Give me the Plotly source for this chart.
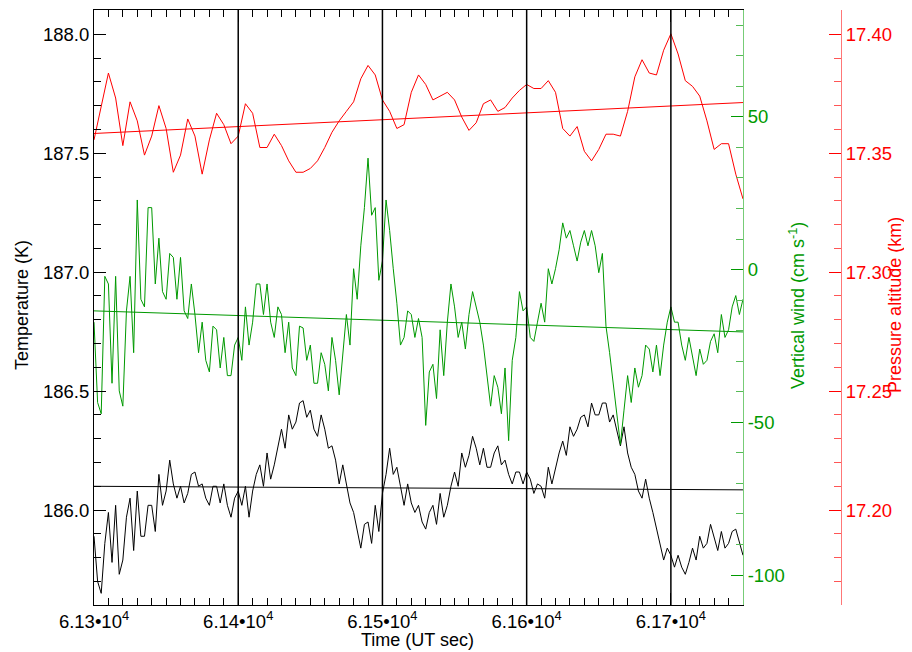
import numpy as np
import plotly.graph_objects as go

# sample grids (UT sec)
t_fast = np.arange(61300, 61750.1, 2.5)   # temperature & vertical wind
t_slow = np.arange(61300, 61750.1, 5.0)   # pressure altitude

temperature = [
    185.89, 185.70, 185.65, 185.86, 185.99, 185.78, 186.02, 185.73,
    185.79, 185.97, 186.05, 185.83, 186.08, 185.89, 185.89, 186.02,
    186.02, 185.91, 186.15, 186.02, 186.08, 186.21, 186.11, 186.05,
    186.10, 186.03, 186.07, 186.15, 186.16, 186.10, 186.11, 186.05,
    186.02, 186.10, 186.10, 186.03, 186.11, 186.02, 185.97, 186.05,
    186.08, 186.02, 186.10, 185.97, 186.08, 186.15, 186.19, 186.10,
    186.24, 186.13, 186.19, 186.27, 186.34, 186.26, 186.40, 186.34,
    186.37, 186.45, 186.46, 186.39, 186.42, 186.34, 186.31, 186.40,
    186.34, 186.26, 186.27, 186.21, 186.11, 186.19, 186.11, 186.03,
    185.99, 185.92, 185.84, 185.94, 185.95, 185.86, 186.02, 185.91,
    186.07, 186.15, 186.26, 186.15, 186.18, 186.10, 186.02, 186.11,
    186.03, 185.99, 186.02, 185.95, 185.92, 185.99, 186.02, 185.94,
    186.07, 185.97, 186.02, 186.10, 186.16, 186.10, 186.24, 186.18,
    186.23, 186.31, 186.26, 186.19, 186.26, 186.18, 186.18, 186.24,
    186.27, 186.19, 186.21, 186.15, 186.11, 186.16, 186.16, 186.11,
    186.16, 186.13, 186.07, 186.11, 186.10, 186.05, 186.18, 186.11,
    186.18, 186.24, 186.29, 186.23, 186.35, 186.31, 186.34, 186.39,
    186.40, 186.35, 186.45, 186.40, 186.40, 186.45, 186.45, 186.37,
    186.40, 186.34, 186.27, 186.35, 186.24, 186.18, 186.15, 186.08,
    186.05, 186.13, 186.05, 185.99, 185.92, 185.86, 185.79, 185.84,
    185.81, 185.76, 185.81, 185.76, 185.73, 185.78, 185.84, 185.79,
    185.89, 185.84, 185.86, 185.94, 185.89, 185.83, 185.91, 185.84,
    185.86, 185.91, 185.92, 185.86, 185.81,
]

vertical_wind = [
    -17.2, -43.5, -47.2, -2.2, -4.7, -37.2, -2.2, -39.7,
    -44.7, -13.5, -2.2, -27.2, 22.8, -9.7, -12.2, 20.3,
    20.3, -4.7, 10.3, -7.2, -9.7, 5.3, 4.0, -9.7,
    4.0, -13.5, -16.0, -4.7, -14.7, -27.2, -17.2, -29.7,
    -33.5, -18.5, -19.7, -32.2, -22.2, -34.7, -34.7, -24.7,
    -22.2, -29.7, -12.2, -24.7, -17.2, -4.7, -4.7, -14.7,
    -4.7, -17.2, -22.2, -12.2, -14.7, -27.2, -17.2, -32.2,
    -34.7, -18.5, -19.1, -29.7, -24.7, -37.2, -37.2, -27.2,
    -31.0, -39.7, -22.2, -29.7, -41.0, -27.2, -14.7, -24.7,
    0.3, -9.7, 7.8, 20.3, 36.5, 17.8, 20.3, -3.5,
    2.8, 22.8, 12.8, 0.3, -11.0, -24.7, -22.2, -13.5,
    -14.7, -22.2, -16.0, -22.2, -51.0, -33.5, -31.0, -42.2,
    -19.7, -34.7, -17.2, -4.7, -12.2, -22.2, -17.2, -26.0,
    -14.7, -7.2, -12.2, -17.2, -24.7, -34.7, -44.7, -34.7,
    -38.5, -47.2, -32.2, -56.0, -29.7, -22.2, -7.2, -13.5,
    -12.2, -22.2, -23.5, -17.2, -11.0, -17.2, 0.3, -4.7,
    0.3, 6.5, 15.3, 10.3, 12.8, 7.8, 2.8, 9.0,
    12.8, 7.8, 12.8, 7.8, -1.0, 5.3, -18.5, -27.2,
    -37.2, -47.2, -57.2, -46.0, -34.7, -43.5, -32.2, -38.5,
    -34.7, -24.7, -26.0, -33.5, -24.7, -34.7, -24.7, -17.2,
    -12.2, -17.2, -17.2, -24.7, -29.7, -22.2, -28.5, -34.7,
    -26.0, -31.0, -29.7, -23.5, -21.0, -27.2, -14.7, -22.2,
    -19.7, -12.2, -8.5, -14.7, -9.7,
]

pressure_alt = [
    17.3556, 17.3700, 17.3837, 17.3732, 17.3532, 17.3716, 17.3636, 17.3492, 17.3572, 17.3700,
    17.3604, 17.3420, 17.3492, 17.3644, 17.3572, 17.3412, 17.3556, 17.3668, 17.3620, 17.3540,
    17.3572, 17.3708, 17.3668, 17.3524, 17.3524, 17.3580, 17.3532, 17.3468, 17.3420, 17.3420,
    17.3436, 17.3468, 17.3524, 17.3588, 17.3636, 17.3676, 17.3716, 17.3813, 17.3869, 17.3829,
    17.3724, 17.3676, 17.3604, 17.3620, 17.3756, 17.3829, 17.3789, 17.3724, 17.3740, 17.3756,
    17.3724, 17.3652, 17.3596, 17.3628, 17.3708, 17.3724, 17.3676, 17.3692, 17.3732, 17.3764,
    17.3789, 17.3772, 17.3772, 17.3805, 17.3756, 17.3604, 17.3572, 17.3612, 17.3508, 17.3468,
    17.3516, 17.3580, 17.3580, 17.3572, 17.3676, 17.3821, 17.3893, 17.3837, 17.3829, 17.3933,
    17.4002, 17.3917, 17.3805, 17.3781, 17.3740, 17.3636, 17.3516, 17.3540, 17.3540, 17.3412,
    17.3308,
]

# linear fits (end points)
fit_t = [61300, 61750]
temperature_fit = [186.100, 186.085]
wind_fit = [-13.5, -20.4]
alt_fit = [17.3583, 17.3713]

vline_times = [61400, 61500, 61600, 61700]
x_tickvals = [61300, 61400, 61500, 61600, 61700]
x_ticktext = ['6.13•10<sup>4</sup>', '6.14•10<sup>4</sup>', '6.15•10<sup>4</sup>',
              '6.16•10<sup>4</sup>', '6.17•10<sup>4</sup>']
wind_tickvals = [-100, -50, 0, 50]
wind_ticktext = ['-100', '-50', '0', '50']

GREEN = '#009900'
RED = '#ff0000'
FONT = 'Liberation Sans, Arial, sans-serif'
FS = 18        # axis titles
TFS = 18.5     # tick labels

fig = go.Figure()

fig.add_trace(go.Scatter(x=t_fast, y=temperature, mode='lines',
                         line=dict(color='black', width=1)))
fig.add_trace(go.Scatter(x=fit_t, y=temperature_fit, mode='lines',
                         line=dict(color='black', width=1)))
fig.add_trace(go.Scatter(x=t_fast, y=vertical_wind, mode='lines', yaxis='y2',
                         line=dict(color=GREEN, width=1)))
fig.add_trace(go.Scatter(x=fit_t, y=wind_fit, mode='lines', yaxis='y2',
                         line=dict(color=GREEN, width=1)))
fig.add_trace(go.Scatter(x=t_slow, y=pressure_alt, mode='lines', yaxis='y3',
                         line=dict(color=RED, width=1)))
fig.add_trace(go.Scatter(x=fit_t, y=alt_fit, mode='lines', yaxis='y3',
                         line=dict(color=RED, width=1)))

for t in vline_times:
    fig.add_vline(x=t, line=dict(color='black', width=1.5))

# page body has an 8px margin, so the figure is 8px smaller than the window
fig.update_layout(
    width=904, height=644,
    margin=dict(l=86, r=71, t=2, b=47),
    plot_bgcolor='white', paper_bgcolor='white',
    showlegend=False,
    font=dict(family=FONT, size=TFS, color='black'),
    xaxis=dict(domain=[0, 0.8688], range=[61300, 61750],
               tickmode='array', tickvals=x_tickvals, ticktext=x_ticktext,
               ticks='inside', ticklen=12, tickcolor='black',
               minor=dict(tickmode='linear', tick0=61300, dtick=10,
                          ticks='inside', ticklen=7, tickcolor='black'),
               showline=True, linecolor='black', linewidth=1, mirror='ticks',
               showgrid=False, zeroline=False),
    yaxis=dict(range=[185.601, 188.102], tickmode='linear', tick0=186, dtick=0.5,
               tickformat='.1f', ticks='inside', ticklen=12, tickcolor='black',
               minor=dict(tickmode='linear', tick0=186, dtick=0.1,
                          ticks='inside', ticklen=7, tickcolor='black'),
               showline=True, linecolor='black', linewidth=1,
               showgrid=False, zeroline=False),
    yaxis2=dict(overlaying='y', side='right', anchor='x',
                range=[-109.8, 85.0], tickmode='array',
                tickvals=wind_tickvals, ticktext=wind_ticktext,
                ticks='inside', ticklen=12, tickcolor=GREEN,
                minor=dict(tickmode='linear', tick0=0, dtick=10,
                           ticks='inside', ticklen=7, tickcolor='#55bb55'),
                tickfont=dict(color=GREEN),
                showline=True, linecolor='#77cc77', linewidth=1,
                showgrid=False, zeroline=False),
    yaxis3=dict(overlaying='y', side='right', anchor='free', position=1.0,
                range=[17.1601, 17.4102], tickmode='linear', tick0=17.2, dtick=0.05,
                tickformat='.2f', ticks='inside', ticklen=12, tickcolor=RED,
                minor=dict(tickmode='linear', tick0=17.2, dtick=0.01,
                           ticks='inside', ticklen=7, tickcolor='#ff5555'),
                tickfont=dict(color=RED),
                showline=True, linecolor='#ff7777', linewidth=1,
                showgrid=False, zeroline=False),
)

# axis titles
fig.add_annotation(text='Temperature (K)', xref='paper', yref='paper',
                   x=-0.0964, y=0.504, textangle=-90, showarrow=False,
                   xanchor='center', yanchor='middle', font=dict(size=FS))
fig.add_annotation(text='Time (UT sec)', xref='paper', yref='paper',
                   x=0.4337, y=-0.058, showarrow=False,
                   xanchor='center', yanchor='middle', font=dict(size=FS))
fig.add_annotation(text='Vertical wind (cm s<sup>-1</sup>)', xref='paper', yref='paper',
                   x=0.941, y=0.504, textangle=-90, showarrow=False,
                   xanchor='center', yanchor='middle', font=dict(size=FS, color=GREEN))
fig.add_annotation(text='Pressure altitude (km)', xref='paper', yref='paper',
                   x=1.072, y=0.504, textangle=-90, showarrow=False,
                   xanchor='center', yanchor='middle', font=dict(size=FS, color=RED))

fig.write_html('out.html')
